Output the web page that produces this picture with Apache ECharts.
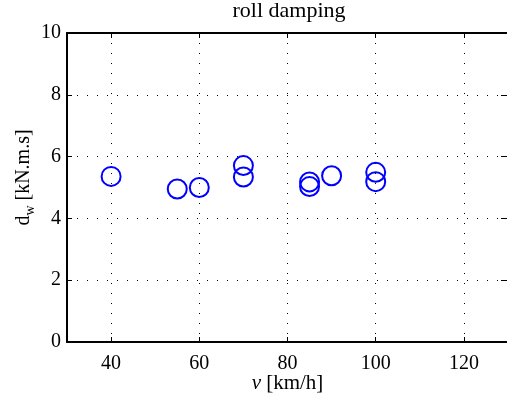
<!DOCTYPE html>
<html>
<head>
<meta charset="utf-8">
<script src="https://cdn.jsdelivr.net/npm/echarts@6/dist/echarts.min.js"></script>
<style>html,body{margin:0;padding:0;background:#fff}#c{width:507px;height:398px}</style>
</head>
<body>
<div id="c"></div>
<script>
var titleText = 'roll damping';
var speeds = [40, 55, 60, 70, 70, 85, 85, 90, 100, 100];
var damping = [5.36, 4.95, 5.0, 5.71, 5.34, 5.18, 5.03, 5.38, 5.49, 5.19];
var xRange = [30, 130];
var yRange = [0, 10];

var FONT = '"Liberation Serif", "Times New Roman", serif';
var chart = echarts.init(document.getElementById('c'), null, {renderer: 'canvas'});
var pts = speeds.map(function (v, i) { return [v, damping[i]]; });
var grid = {left: 67, top: 33, width: 441, bottom: 56, containLabel: false, outerBoundsMode: 'none'};
var dotted = {show: true, lineStyle: {color: '#000', width: 1, type: [1, 9]}};
chart.setOption({
  animation: false,
  backgroundColor: '#fff',
  title: {
    text: titleText, left: 284, top: -5, textAlign: 'center',
    textStyle: {fontFamily: FONT, fontSize: 22, fontWeight: 'normal', color: '#000'}
  },
  grid: grid,
  xAxis: [{
    type: 'value', min: xRange[0], max: xRange[1], minInterval: 20, maxInterval: 20, splitNumber: 5,
    position: 'bottom',
    axisLine: {show: true, onZero: false, lineStyle: {color: '#000', width: 2}},
    axisTick: {show: true, inside: true, length: 5, lineStyle: {color: '#000', width: 1}},
    axisLabel: {show: true, showMinLabel: false, showMaxLabel: false, margin: 12,
      fontFamily: FONT, fontSize: 20, color: '#000'},
    splitLine: dotted,
    name: '{i|v} [km/h]', nameLocation: 'middle', nameGap: 31, nameMoveOverlap: false,
    nameTextStyle: {fontFamily: FONT, fontSize: 21, color: '#000',
      rich: {i: {fontFamily: FONT, fontSize: 21, fontStyle: 'italic', color: '#000'}}}
  }, {
    type: 'value', min: xRange[0], max: xRange[1], minInterval: 20, maxInterval: 20, splitNumber: 5,
    position: 'top',
    axisLine: {show: true, onZero: false, lineStyle: {color: '#000', width: 2}},
    axisTick: {show: true, inside: true, length: 5, lineStyle: {color: '#000', width: 1}},
    axisLabel: {show: false}, splitLine: {show: false}
  }],
  yAxis: [{
    type: 'value', min: yRange[0], max: yRange[1], interval: 2,
    position: 'left',
    axisLine: {show: true, onZero: false, lineStyle: {color: '#000', width: 2}},
    axisTick: {show: true, inside: true, length: 5, lineStyle: {color: '#000', width: 1}},
    axisLabel: {show: true, margin: 6, fontFamily: FONT, fontSize: 20, color: '#000'},
    splitLine: dotted,
    name: '{n|d}{s|w}{n| [kN.m.s]}', nameLocation: 'middle', nameGap: 30, nameMoveOverlap: false,
    nameTextStyle: {fontFamily: FONT, fontSize: 20, color: '#000', padding: [0, 0, 0, 20],
      rich: {
        n: {fontFamily: FONT, fontSize: 20, color: '#000', lineHeight: 26, verticalAlign: 'middle'},
        s: {fontFamily: FONT, fontSize: 14, color: '#000', lineHeight: 26, verticalAlign: 'bottom', padding: [9, 0, 0, 0]}
      }}
  }, {
    type: 'value', min: yRange[0], max: yRange[1], interval: 2,
    position: 'right',
    axisLine: {show: false},
    axisTick: {show: true, inside: true, length: 7, lineStyle: {color: '#000', width: 1}},
    axisLabel: {show: false}, splitLine: {show: false}
  }],
  series: [{
    type: 'scatter', xAxisIndex: 0, yAxisIndex: 0,
    data: pts, symbol: 'circle', symbolSize: 19,
    itemStyle: {color: 'rgba(0,0,0,0)', borderColor: '#0000ff', borderWidth: 2, opacity: 1},
    emphasis: {disabled: true}
  }]
});
</script>
</body>
</html>
